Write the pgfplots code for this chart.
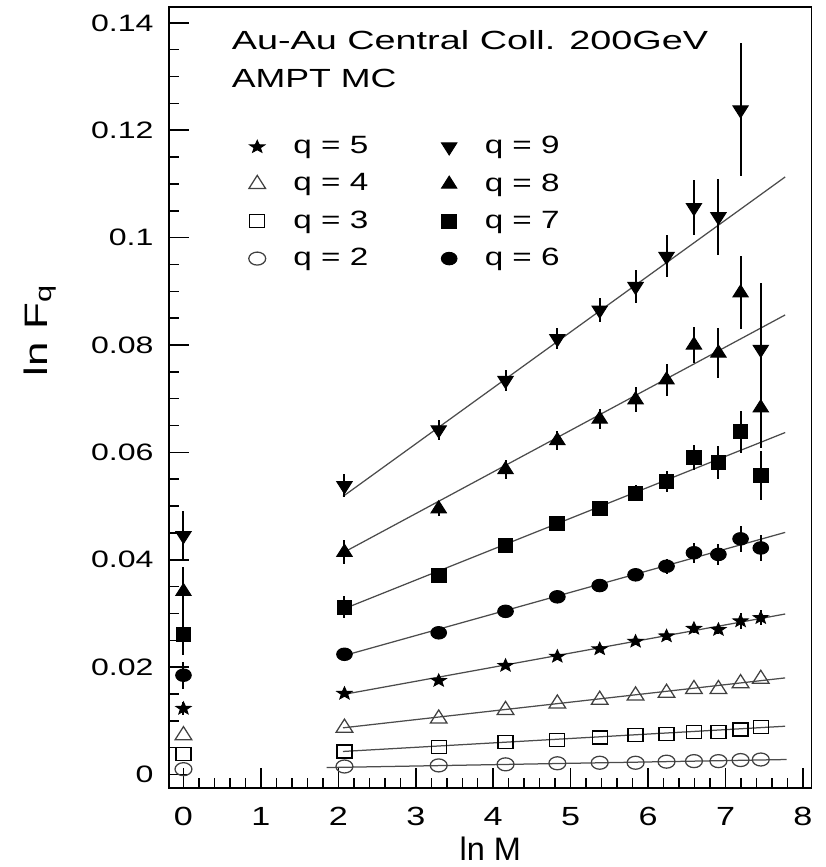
\documentclass[border=0pt]{standalone}
\usepackage{pgfplots}
\usepackage{pgfplotstable}
\pgfplotsset{compat=1.18}
\usepackage{fontspec}
\setmainfont{Liberation Sans}
\usetikzlibrary{calc}

\pgfdeclareplotmark{fstar}{%
  \pgfpathmoveto{\pgfpointpolar{90}{\pgfplotmarksize}}%
  \pgfpathlineto{\pgfpointpolar{126}{0.42\pgfplotmarksize}}%
  \pgfpathlineto{\pgfpointpolar{162}{\pgfplotmarksize}}%
  \pgfpathlineto{\pgfpointpolar{198}{0.42\pgfplotmarksize}}%
  \pgfpathlineto{\pgfpointpolar{234}{\pgfplotmarksize}}%
  \pgfpathlineto{\pgfpointpolar{270}{0.42\pgfplotmarksize}}%
  \pgfpathlineto{\pgfpointpolar{306}{\pgfplotmarksize}}%
  \pgfpathlineto{\pgfpointpolar{342}{0.42\pgfplotmarksize}}%
  \pgfpathlineto{\pgfpointpolar{18}{\pgfplotmarksize}}%
  \pgfpathlineto{\pgfpointpolar{54}{0.42\pgfplotmarksize}}%
  \pgfpathclose
  \pgfusepathqfillstroke
}

% q = 9
\pgfplotstableread{
x y e
0     0.0445 0.0046
2.079 0.0538 0.0022
3.296 0.0642 0.0019
4.159 0.0734 0.0020
4.828 0.0812 0.0019
5.375 0.0865 0.0023
5.838 0.0909 0.0030
6.238 0.0965 0.0039
6.592 0.1056 0.0051
6.908 0.1039 0.0071
7.194 0.1238 0.0124
7.455 0.0792 0.0124
}\qnine
% q = 8
\pgfplotstableread{
x y e
0     0.0341 0.0046
2.079 0.0414 0.0022
3.296 0.0495 0.0014
4.159 0.0568 0.0017
4.828 0.0622 0.0017
5.375 0.0662 0.0019
5.838 0.0698 0.0023
6.238 0.0735 0.0030
6.592 0.0800 0.0034
6.908 0.0785 0.0047
7.194 0.0897 0.0068
7.455 0.0683 0.0075
}\qeight
% q = 7
\pgfplotstableread{
x y e
0     0.0260 0.0037
2.079 0.0312 0.0020
3.296 0.0371 0.0012
4.159 0.0426 0.0012
4.828 0.0467 0.0012
5.375 0.0495 0.0013
5.838 0.0524 0.0015
6.238 0.0546 0.0019
6.592 0.0591 0.0023
6.908 0.0581 0.0030
7.194 0.0638 0.0040
7.455 0.0557 0.0045
}\qseven
% q = 6
\pgfplotstableread{
x y e
0     0.0185 0.0025
2.079 0.0224 0.0008
3.296 0.0264 0.0008
4.159 0.0304 0.0008
4.828 0.0331 0.0009
5.375 0.0352 0.0010
5.838 0.0372 0.0011
6.238 0.0388 0.0014
6.592 0.0413 0.0019
6.908 0.0410 0.0019
7.194 0.0439 0.0024
7.455 0.0422 0.0025
}\qsix
% q = 5
\pgfplotstableread{
x y e
0     0.0123 0.0013
2.079 0.0151 0.0004
3.296 0.0175 0.0004
4.159 0.0203 0.0004
4.828 0.0220 0.0005
5.375 0.0234 0.0005
5.838 0.0248 0.0006
6.238 0.0258 0.0007
6.592 0.0272 0.0008
6.908 0.0270 0.0009
7.194 0.0286 0.0014
7.455 0.0292 0.0014
}\qfive
% q = 4
\pgfplotstableread{
x y
0     0.0073
2.079 0.0087
3.296 0.0104
4.159 0.0120
4.828 0.0132
5.375 0.0139
5.838 0.0147
6.238 0.0152
6.592 0.0159
6.908 0.0159
7.194 0.0170
7.455 0.0178
}\qfour
% q = 3
\pgfplotstableread{
x y
0     0.0038
2.079 0.0043
3.296 0.0051
4.159 0.0060
4.828 0.0065
5.375 0.0069
5.838 0.0073
6.238 0.0076
6.592 0.0079
6.908 0.0079
7.194 0.0084
7.455 0.0089
}\qthree
% q = 2
\pgfplotstableread{
x y
0     0.0010
2.079 0.0015
3.296 0.0017
4.159 0.0019
4.828 0.0021
5.375 0.0022
5.838 0.0022
6.238 0.0024
6.592 0.0025
6.908 0.0025
7.194 0.0027
7.455 0.0028
}\qtwo

\newcommand{\hs}[1]{\scalebox{1.33}[1]{#1}}

\begin{document}
\begin{tikzpicture}
\begin{axis}[
  scale only axis,
  width=256.8pt, height=312.4pt,
  xmin=-0.183, xmax=8.11,
  ymin=-0.0025, ymax=0.1430,
  axis line style={line width=0.7pt},
  xtick={0,1,2,3,4,5,6,7,8},
  ytick={0,0.02,0.04,0.06,0.08,0.1,0.12,0.14},
  scaled y ticks=false,
  xticklabel={\scalebox{1.3}[1]{\pgfmathprintnumber{\tick}}},
  yticklabel={\scalebox{1.35}[1]{\pgfmathprintnumber[fixed,precision=2]{\tick}}},
  minor x tick num=4,
  minor y tick num=3,
  xtick pos=bottom, ytick pos=left,
  tick align=inside,
  major tick length=8pt, minor tick length=4pt,
  tick style={black, line width=0.6pt},
  /pgf/number format/assume math mode=true,
  xticklabel style={font=\fontsize{10.5}{12}\selectfont, yshift=-4.3pt},
  yticklabel style={font=\fontsize{9.5}{11}\selectfont, xshift=-2.8pt},
  xlabel={ln M},
  ylabel={\scalebox{1.35}[1]{ln F\textsubscript{q}}},
  xlabel style={font=\fontsize{13}{15}\selectfont, at={(axis description cs:0.5,-0.078)}, anchor=center},
  ylabel style={font=\fontsize{13}{15}\selectfont, at={(axis description cs:-0.2009,0.586)}, anchor=center},
  every axis plot/.append style={black},
  error bars/error bar style={line width=0.8pt, black},
  error bars/error mark=none,
  legend columns=2,
  legend cell align=left,
  legend style={draw=none, fill=none, at={(axis description cs:0.123,0.845)}, anchor=north west,
    font=\fontsize{10}{12}\selectfont, inner sep=0pt,
    nodes={inner sep=3.2pt},
    /tikz/every odd column/.append style={column sep=7.9pt},
    /tikz/every even column/.append style={column sep=26pt}},
  clip=false,
]
% fit lines
\addplot[forget plot, black!70, line width=0.5pt] coordinates {(2.06,0.0518) (7.77,0.1113)};
\addplot[forget plot, black!70, line width=0.5pt] coordinates {(2.02,0.0410) (7.77,0.0856)};
\addplot[forget plot, black!70, line width=0.5pt] coordinates {(2.06,0.0308) (7.77,0.0637)};
\addplot[forget plot, black!70, line width=0.5pt] coordinates {(2.06,0.0221) (7.77,0.0451)};
\addplot[forget plot, black!70, line width=0.5pt] coordinates {(2.06,0.0149) (7.77,0.0299)};
\addplot[forget plot, black!70, line width=0.5pt] coordinates {(2.06,0.0087) (7.77,0.0180)};
\addplot[forget plot, black!70, line width=0.5pt] coordinates {(2.06,0.0043) (7.77,0.0090)};
\addplot[forget plot, black!70, line width=0.5pt] coordinates {(1.85,0.0013) (7.79,0.0028)};

% data (order chosen for two-column legend)
\addplot[only marks, mark=fstar, mark size=2.6pt, mark options={fill=black, xscale=1.2},
  error bars/.cd, y dir=both, y explicit] table[x=x,y=y,y error=e]{\qfive};
\addlegendentry{\hs{q = 5}}
\addplot[only marks, mark=triangle*, mark size=3.2pt, mark options={fill=black, rotate=180, xscale=1.1},
  error bars/.cd, y dir=both, y explicit] table[x=x,y=y,y error=e]{\qnine};
\addlegendentry{\hs{q = 9}}
\addplot[only marks, mark=triangle, mark size=3.5pt, mark options={draw=black!75, line width=0.5pt, xscale=1.1}]
  table[x=x,y=y]{\qfour};
\addlegendentry{\hs{q = 4}}
\addplot[only marks, mark=triangle*, mark size=3.2pt, mark options={fill=black, xscale=1.1},
  error bars/.cd, y dir=both, y explicit] table[x=x,y=y,y error=e]{\qeight};
\addlegendentry{\hs{q = 8}}
\addplot[only marks, mark=square, mark size=2.6pt, mark options={draw=black, line width=0.5pt, xscale=1.15}]
  table[x=x,y=y]{\qthree};
\addlegendentry{\hs{q = 3}}
\addplot[only marks, mark=square*, mark size=2.8pt, mark options={fill=black, xscale=1.05},
  error bars/.cd, y dir=both, y explicit] table[x=x,y=y,y error=e]{\qseven};
\addlegendentry{\hs{q = 7}}
\addplot[only marks, mark=o, mark size=2.6pt, mark options={draw=black!75, line width=0.5pt, xscale=1.3}]
  table[x=x,y=y]{\qtwo};
\addlegendentry{\hs{q = 2}}
\addplot[only marks, mark=*, mark size=2.5pt, mark options={fill=black, xscale=1.25},
  error bars/.cd, y dir=both, y explicit] table[x=x,y=y,y error=e]{\qsix};
\addlegendentry{\hs{q = 6}}

\node[anchor=base west, font=\fontsize{10.5}{12}\selectfont] at (axis description cs:0.0836,0.945) {\scalebox{1.44}[1]{Au-Au Central Coll. 200GeV}};
\node[anchor=base west, font=\fontsize{10.5}{12}\selectfont] at (axis description cs:0.0836,0.897) {\scalebox{1.36}[1]{AMPT MC}};

\coordinate (BL) at (axis description cs:0,0);
\coordinate (TR) at (axis description cs:1,1);
\end{axis}
\pgfresetboundingbox
\useasboundingbox ($(BL)+(-67.7pt,-31.6pt)$) rectangle ($(TR)+(5.6pt,2.7pt)$);
\end{tikzpicture}
\end{document}
